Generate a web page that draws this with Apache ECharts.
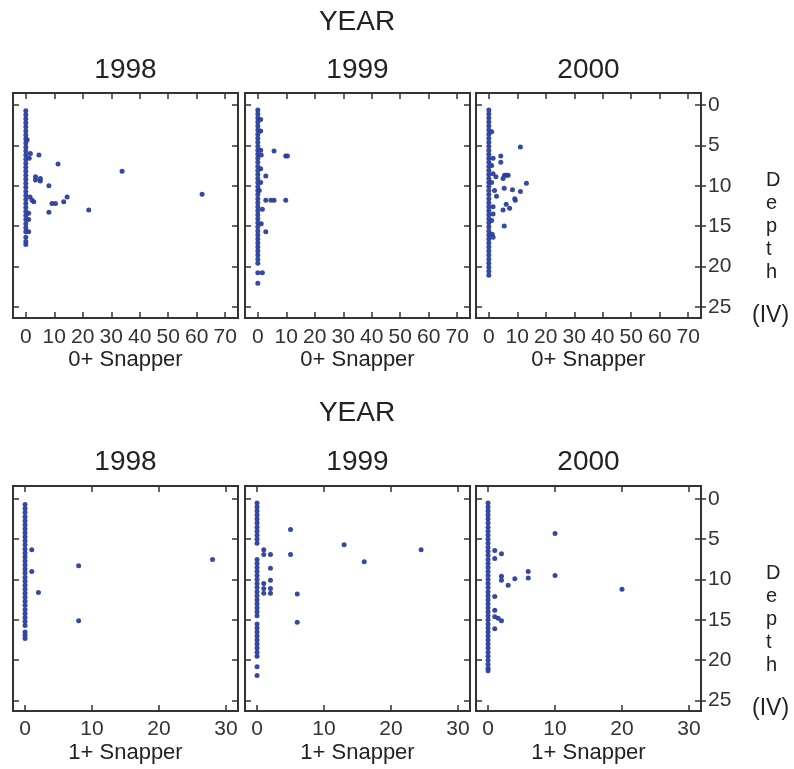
<!DOCTYPE html>
<html>
<head>
<meta charset="utf-8">
<script src="https://cdn.jsdelivr.net/npm/echarts@6/dist/echarts.min.js"></script>
<style>
  html, body { margin: 0; padding: 0; background: #fff; }
  #chart { width: 794px; height: 769px; }
</style>
</head>
<body>
<div id="chart"></div>
<script>
// tick labels
var depthTicks = [0, 5, 10, 15, 20, 25];
var ticks0 = [0, 10, 20, 30, 40, 50, 60, 70];
var ticks1 = [0, 10, 20, 30];
var years = ['1998', '1999', '2000'];

// depths with a zero count (the vertical column at x = 0)
var zeros0_1998 = [0.7, 1.2, 1.7, 2.2, 2.7, 3.2, 3.7, 4.2, 4.7, 5.2, 5.7, 6.2, 6.7, 7.2, 7.7, 8.2, 8.7, 9.2, 9.7, 10.2,
  10.7, 11.2, 11.7, 12.2, 12.7, 13.2, 13.7, 14.2, 14.7, 15.2, 15.7, 16.4, 16.9, 17.3];
var zeros0_1999 = [0.6, 1.1, 1.6, 2.1, 2.6, 3.1, 3.6, 4.1, 4.6, 5.1, 5.6, 6.1, 6.6, 7.1, 7.6, 8.1, 8.6, 9.1, 9.6, 10.1,
  10.6, 11.1, 11.6, 12.1, 12.6, 13.1, 13.6, 14.1, 14.6, 15.1, 15.6, 16.1, 16.6, 17.1, 17.6, 18.1, 18.6, 19.1, 19.6, 20.8, 22.1];
var zeros0_2000 = [0.6, 1.1, 1.6, 2.1, 2.6, 3.1, 3.6, 4.1, 4.6, 5.1, 5.6, 6.1, 6.6, 7.1, 7.6, 8.1, 8.6, 9.1, 9.6, 10.1,
  10.6, 11.1, 11.6, 12.1, 12.6, 13.1, 13.6, 14.1, 14.6, 15.1, 15.6, 16.1, 16.6, 17.1, 17.6, 18.1, 18.6, 19.1, 19.6, 20.1, 20.6, 21.1];
var zeros1_1998 = [0.7, 1.2, 1.7, 2.2, 2.7, 3.2, 3.7, 4.2, 4.7, 5.2, 5.7, 6.2, 6.7, 7.2, 7.7, 8.2, 8.7, 9.2, 9.7, 10.2,
  10.7, 11.2, 11.7, 12.2, 12.7, 13.2, 13.7, 14.2, 14.7, 15.2, 15.7, 16.5, 16.9, 17.3];
var zeros1_1999 = [0.5, 1.0, 1.5, 2.0, 2.5, 3.0, 3.5, 4.0, 4.5, 5.0, 5.5, 7.5, 8.0, 8.5, 9.0, 9.5, 10.0, 10.5, 11.0, 11.5,
  12.0, 12.5, 13.0, 13.5, 14.0, 14.5, 15.5, 16.0, 16.5, 17.0, 17.5, 18.0, 18.5, 19.0, 19.5, 20.8, 21.9];
var zeros1_2000 = [0.5, 1.0, 1.5, 2.0, 2.5, 3.0, 3.5, 4.0, 4.5, 5.0, 5.5, 6.0, 6.5, 7.0, 7.5, 8.0, 8.5, 9.0, 9.5, 10.0,
  10.5, 11.0, 11.5, 12.0, 12.5, 13.0, 13.5, 14.0, 14.5, 15.0, 15.5, 16.0, 16.5, 17.0, 17.5, 18.0, 18.5, 19.0, 19.5, 20.0, 20.5, 21.0, 21.3];

// non-zero counts: [count, depth]
var pts0_1998 = [[0.5, 4.3], [1.6, 6.0], [4.6, 6.2], [1.2, 6.6], [11.3, 7.3], [33.8, 8.2], [3.4, 8.9], [5.1, 9.1], [3.4, 9.3],
  [5.1, 9.4], [8.1, 10.0], [1.5, 11.4], [2.2, 11.8], [2.8, 12.0], [14.5, 11.4], [13.3, 12.0], [9.2, 12.2], [10.4, 12.2],
  [8.1, 13.3], [22.1, 13.0], [61.9, 11.05], [1.0, 13.4], [1.0, 14.2], [1.0, 15.7]];
var pts0_1999 = [[1.0, 1.8], [1.0, 3.2], [1.0, 5.6], [5.7, 5.7], [9.8, 6.3], [10.4, 6.3], [1.2, 6.2], [1.0, 7.9], [2.8, 8.8],
  [1.0, 9.6], [0.5, 10.6], [2.8, 11.8], [4.6, 11.8], [5.7, 11.8], [9.8, 11.8], [1.6, 12.9], [1.2, 14.7], [2.8, 15.7], [1.6, 20.8]];
var pts0_2000 = [[1.0, 3.3], [11.1, 5.2], [4.2, 6.3], [4.2, 7.1], [1.5, 6.6], [1.0, 7.5], [6.2, 8.7], [5.5, 8.7], [6.8, 8.7],
  [1.5, 8.5], [2.5, 8.9], [5.0, 9.1], [13.2, 9.7], [1.0, 9.6], [5.4, 10.3], [8.3, 10.5], [11.1, 10.7], [2.0, 10.6],
  [9.1, 11.6], [9.3, 11.8], [2.7, 11.3], [6.1, 12.3], [7.3, 12.8], [5.0, 13.0], [1.5, 12.6], [1.5, 13.5], [5.4, 15.0],
  [1.2, 16.0], [1.5, 16.4], [1.0, 14.3]];
var pts1_1998 = [[1, 6.3], [1, 9.0], [2, 11.6], [8, 8.3], [8, 15.1], [28, 7.5]];
var pts1_1999 = [[5, 3.8], [5, 6.9], [13, 5.7], [16, 7.8], [24.5, 6.3], [1, 6.3], [1, 6.9], [2, 6.9], [2, 8.6], [2, 10.1],
  [1, 10.5], [1, 11.1], [1, 11.7], [2, 11.1], [2, 11.7], [6, 11.8], [6, 15.3]];
var pts1_2000 = [[10, 4.3], [10, 9.5], [20, 11.2], [6, 9.0], [6, 9.8], [4, 9.9], [3, 10.7], [2, 9.6], [2, 10.1], [2, 6.8],
  [1, 6.4], [1, 7.4], [1, 12.1], [1, 13.8], [1, 14.6], [1.5, 14.8], [2, 15.1], [1, 16.1]];

var FONT = 'Liberation Sans, Arial, Helvetica, sans-serif';
var INK = '#333';
var DOT = '#2a3f9d';

var panels = [
  {zeros: zeros0_1998, pts: pts0_1998, ticks: ticks0, row: 0, col: 0},
  {zeros: zeros0_1999, pts: pts0_1999, ticks: ticks0, row: 0, col: 1},
  {zeros: zeros0_2000, pts: pts0_2000, ticks: ticks0, row: 0, col: 2},
  {zeros: zeros1_1998, pts: pts1_1998, ticks: ticks1, row: 1, col: 0},
  {zeros: zeros1_1999, pts: pts1_1999, ticks: ticks1, row: 1, col: 1},
  {zeros: zeros1_2000, pts: pts1_2000, ticks: ticks1, row: 1, col: 2}
];
var colLeft = [13, 245, 476];
var rowTop = [93, 486];
var boxW = 225, boxH = 225;
var xRange = [[-4.5, 74.5], [-1.8, 31.8]];
var yRange = [[-1.5, 26.4], [-1.6, 26.3]];

var grid = [], xAxis = [], yAxis = [], series = [];
var tickStyle = {color: INK, width: 1.5};

panels.forEach(function (p, i) {
  grid.push({
    left: colLeft[p.col], top: rowTop[p.row], width: boxW, height: boxH,
    show: true, borderColor: INK, borderWidth: 2, backgroundColor: '#fff'
  });
  var xr = xRange[p.row], yr = yRange[p.row];
  // bottom x axis with labels
  xAxis.push({
    type: 'value', gridIndex: i, position: 'bottom', min: xr[0], max: xr[1],
    axisLine: {show: false, onZero: false}, splitLine: {show: false},
    axisTick: {show: true, inside: true, length: 6, customValues: p.ticks, lineStyle: tickStyle},
    axisLabel: {show: true, customValues: p.ticks, fontSize: 21, fontFamily: FONT, color: INK, margin: p.row === 0 ? 9 : 8}
  });
  // top x axis: ticks only
  xAxis.push({
    type: 'value', gridIndex: i, position: 'top', min: xr[0], max: xr[1],
    axisLine: {show: false, onZero: false}, splitLine: {show: false}, axisLabel: {show: false},
    axisTick: {show: true, inside: true, length: 6, customValues: p.ticks, lineStyle: tickStyle}
  });
  // left and right y axes: inward ticks
  ['left', 'right'].forEach(function (pos) {
    yAxis.push({
      type: 'value', gridIndex: i, position: pos, inverse: true, min: yr[0], max: yr[1],
      axisLine: {show: false, onZero: false}, splitLine: {show: false}, axisLabel: {show: false},
      axisTick: {show: true, inside: true, length: 6, customValues: depthTicks, lineStyle: tickStyle}
    });
  });
  var yIdx = yAxis.length - 2;
  if (p.col === 2) {
    yAxis.push({
      type: 'value', gridIndex: i, position: 'right', inverse: true, min: yr[0], max: yr[1],
      axisLine: {show: false, onZero: false}, splitLine: {show: false},
      axisTick: {show: true, inside: false, length: 5, customValues: depthTicks, lineStyle: tickStyle},
      axisLabel: {show: true, customValues: depthTicks, fontSize: 21, fontFamily: FONT, color: INK, margin: 7}
    });
  }
  var data = p.zeros.map(function (d) { return [0, d]; }).concat(p.pts);
  series.push({
    type: 'scatter', xAxisIndex: i * 2, yAxisIndex: yIdx, data: data,
    symbol: 'circle', symbolSize: 5, itemStyle: {color: DOT, opacity: 0.95},
    silent: true, animation: false
  });
});

var graphic = [];
function txt(x, y, s, size, align) {
  graphic.push({
    type: 'text', x: x, y: y, silent: true,
    style: {text: s, font: size + 'px ' + FONT, fill: '#222', textAlign: align || 'center', textVerticalAlign: 'middle'}
  });
}
var yearTitleY = [70, 462], yearHeadY = [22, 413], nameY = [360, 753];
var names = ['0+ Snapper', '1+ Snapper'];
[0, 1].forEach(function (r) {
  txt(357, yearHeadY[r], 'YEAR', 28);
  years.forEach(function (yr, c) {
    var cx = colLeft[c] + boxW / 2;
    txt(cx, yearTitleY[r], yr, 28);
    txt(cx, nameY[r], names[r], 22);
  });
  graphic.push({
    type: 'text', x: 766, y: rowTop[r] + 76, silent: true,
    style: {text: 'D\ne\np\nt\nh', font: '20px ' + FONT, fill: '#222', lineHeight: 23, textAlign: 'left', textVerticalAlign: 'top'}
  });
  txt(752, rowTop[r] + 223, '(IV)', 23, 'left');
});

var chart = echarts.init(document.getElementById('chart'), null, {renderer: 'canvas'});
chart.setOption({
  animation: false,
  backgroundColor: '#fff',
  grid: grid,
  xAxis: xAxis,
  yAxis: yAxis,
  series: series,
  graphic: graphic
});
</script>
</body>
</html>
